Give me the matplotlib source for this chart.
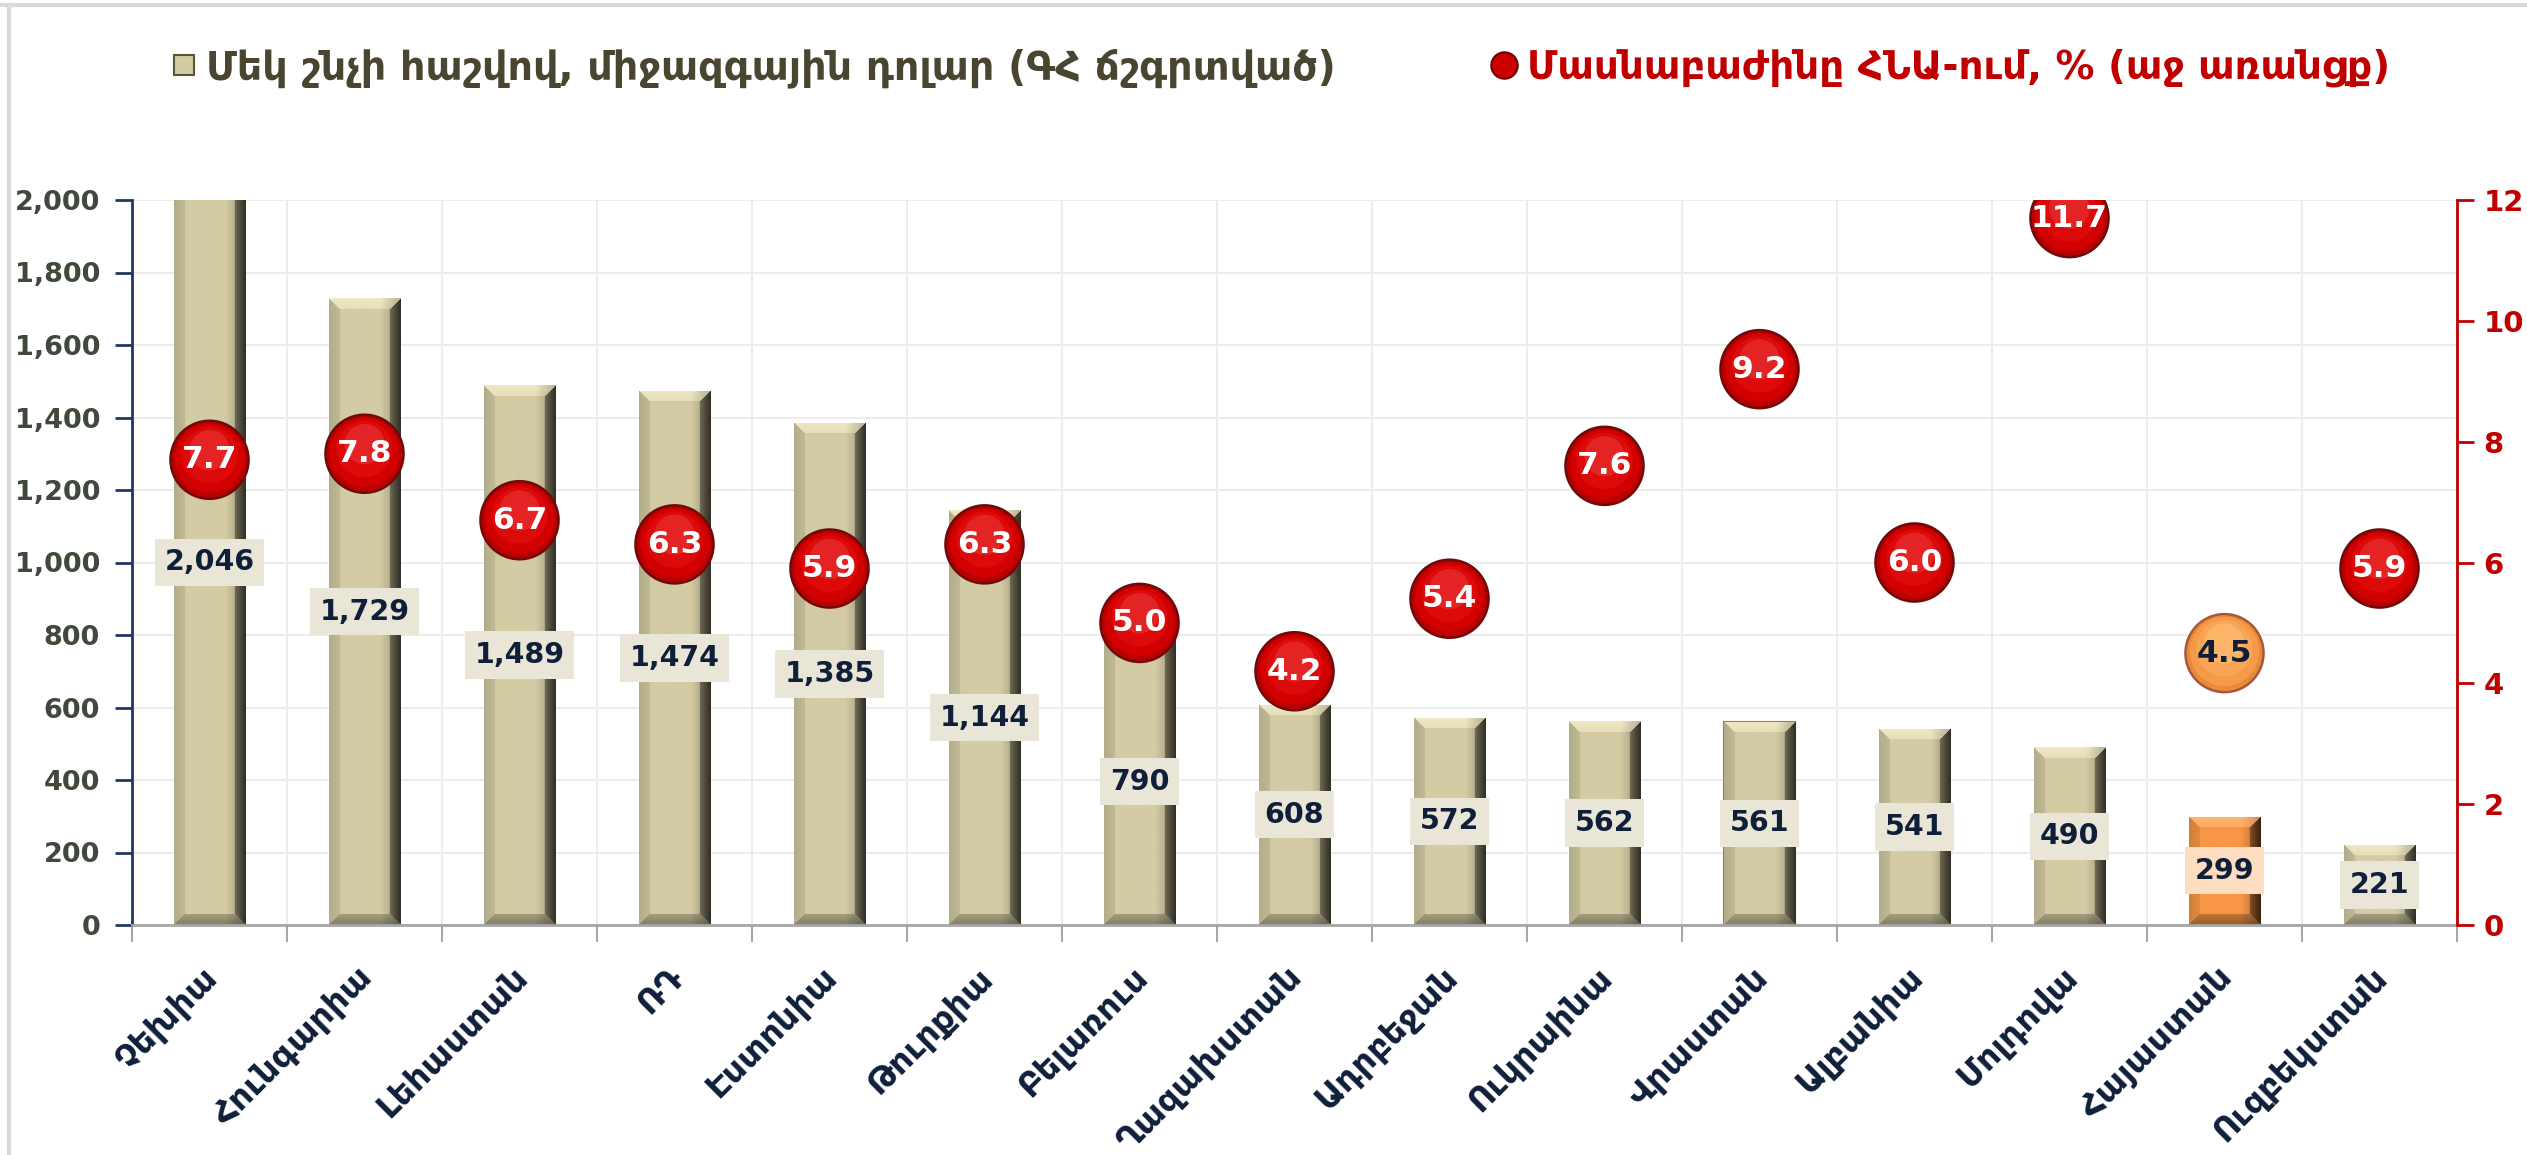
import numpy as np
import matplotlib
matplotlib.use('Agg')
import matplotlib.pyplot as plt
from matplotlib.lines import Line2D
from matplotlib.colors import to_rgb
from matplotlib.transforms import ScaledTranslation
import matplotlib.ticker as mticker

# ---------------- data ----------------
categories = ['Չեխիա', 'Հունգարիա', 'Լեհաստան', 'ՌԴ', 'Էստոնիա', 'Թուրքիա',
              'Բելառուս', 'Ղազախստան', 'Ադրբեջան', 'Ուկրաինա', 'Վրաստան',
              'Ալբանիա', 'Մոլդովա', 'Հայաստան', 'Ուզբեկստան']
per_capita = [2046, 1729, 1489, 1474, 1385, 1144, 790, 608, 572, 562, 561, 541, 490, 299, 221]
share_gdp = [7.7, 7.8, 6.7, 6.3, 5.9, 6.3, 5.0, 4.2, 5.4, 7.6, 9.2, 6.0, 11.7, 4.5, 5.9]
left_ticks = [0, 200, 400, 600, 800, 1000, 1200, 1400, 1600, 1800, 2000]
right_ticks = [0, 2, 4, 6, 8, 10, 12]
legend_bar = 'Մեկ շնչի հաշվով, միջազգային դոլար (ԳՀ ճշգրտված)'
legend_dot = 'Մասնաբաժինը ՀՆԱ-ում, % (աջ առանցք)'
highlight = 'Հայաստան'
outlined = 'Վրաստան'

plt.rcParams['font.family'] = ['DejaVu Sans']

KHAKI = '#d3cba3'
ORANGE = '#f79646'
NAVY = '#0f1f3a'
RED = '#c00000'

W, H = 2527, 1155
fig = plt.figure(figsize=(W / 100, H / 100), dpi=100)
L, R, T, B = 132, 2457, 200, 925
ax = fig.add_axes([L / W, 1 - B / H, (R - L) / W, (B - T) / H])

n = len(categories)
x = np.arange(n)
bw = 0.46
ymax = left_ticks[-1]
px_per_unit_y = (B - T) / ymax
px_per_cat = (R - L) / n


def bevel_image(base, w_px, h_px, bevel=11):
    base = np.array(to_rgb(base))
    rr, cc = np.mgrid[0:h_px, 0:w_px]
    d = np.stack([rr, h_px - 1 - rr, cc, w_px - 1 - cc])
    which = np.argmin(d, axis=0)
    dmin = np.min(d, axis=0)
    fac_edge = np.array([1.12, 0.62, 0.85, 0.33])
    inb = dmin < bevel
    t = 1 - dmin / bevel
    fe = fac_edge[which]
    f = np.where(inb, 1 + (fe - 1) * (0.55 + 0.45 * t), 1.0)
    xs = cc / max(w_px - 1, 1)
    f = f * np.where(xs > 0.72, 1 - 0.28 * (xs - 0.72) / 0.28, 1.0)
    img = np.clip(base[None, None, :] * f[..., None], 0, 1)
    top = (which == 0) & inb
    img[top] = np.clip(img[top] * 0.85 + 0.15, 0, 1)
    return img


bar_colors = [ORANGE if c == highlight else KHAKI for c in categories]
edge_colors = ['#c0702a' if c == outlined else 'none' for c in categories]
bars = ax.bar(x, per_capita, width=bw, color=bar_colors, edgecolor=edge_colors,
              linewidth=1.5, zorder=2)

for i, (b, v, col) in enumerate(zip(bars, per_capita, bar_colors)):
    w_px = int(round(bw * px_per_cat))
    h_px = max(int(round(v * px_per_unit_y)), 4)
    img = bevel_image(col, w_px, h_px)
    vis = min(v, ymax)
    cut = h_px - int(round(vis * px_per_unit_y))
    img = img[cut:]
    im = ax.imshow(img, extent=[i - bw / 2, i + bw / 2, 0, vis], aspect='auto',
                   origin='upper', zorder=2.1, interpolation='bilinear')
    im.set_clip_path(b)

ax.set_xlim(-0.5, n - 0.5)
ax.set_ylim(0, ymax)

# bar value labels
for i, (c, v) in enumerate(zip(categories, per_capita)):
    fc = '#fddcc0' if c == highlight else '#e9e6d8'
    ax.text(i, min(v, ymax) / 2, f'{v:,}', ha='center', va='center', fontsize=20.5,
            fontweight='bold', color=NAVY, zorder=4,
            bbox=dict(boxstyle='square,pad=0.34', fc=fc, ec='none'))

# axes styling
ax.set_yticks(left_ticks)
ax.yaxis.set_major_formatter(mticker.StrMethodFormatter('{x:,.0f}'))
ax.tick_params(axis='y', length=12, width=2, color='#1f3864', pad=11,
               labelsize=19.5, labelcolor='#3f4a3c')
for lab in ax.get_yticklabels():
    lab.set_fontweight('bold')
ax.set_xticks(x)
ax.set_xticks(np.arange(-0.5, n, 1), minor=True)
ax.set_xticklabels(categories, rotation=45, ha='right', va='center',
                   rotation_mode='anchor', fontsize=24, fontweight='bold', color=NAVY)
ax.tick_params(axis='x', which='major', length=0, pad=34)
ax.tick_params(axis='x', which='minor', length=12, width=1.5, color='#a6a6a6')
for lab in ax.get_xticklabels():
    lab.set_transform(lab.get_transform() + ScaledTranslation(0.03, 0, fig.dpi_scale_trans))

ax.set_axisbelow(True)
ax.yaxis.grid(True, color='#ececec', lw=1.5)
ax.xaxis.grid(True, which='minor', color='#ececec', lw=1.5)
ax.spines['top'].set_visible(False)
ax.spines['right'].set_visible(False)
ax.spines['left'].set_color('#1f3864')
ax.spines['left'].set_linewidth(2)
ax.spines['bottom'].set_color('#a6a6a6')
ax.spines['bottom'].set_linewidth(2)

# secondary axis
ax2 = ax.twinx()
ax2.set_ylim(right_ticks[0], right_ticks[-1])
ax2.set_yticks(right_ticks)
ax2.tick_params(axis='y', length=12, width=2, color=RED, pad=7, labelsize=21,
                labelcolor=RED)
for lab in ax2.get_yticklabels():
    lab.set_fontweight('bold')
for s in ['top', 'left', 'bottom']:
    ax2.spines[s].set_visible(False)
ax2.spines['right'].set_color(RED)
ax2.spines['right'].set_linewidth(2)

# glossy ball markers built from layered circles
red_layers = [(1.00, '#6e0a0a', 0.0), (0.94, '#b80000', 0.0), (0.86, '#d20000', 0.02),
              (0.70, '#dc0a0a', 0.06), (0.50, '#e42424', 0.12)]
org_layers = [(1.00, '#a8563a', 0.0), (0.94, '#e88a3c', 0.0), (0.86, '#f59a48', 0.02),
              (0.70, '#f8a656', 0.06), (0.50, '#fbb468', 0.12)]
D = 58.0  # marker diameter in points
is_hl = np.array([c == highlight for c in categories])
for (frac, rc, dy), (_, oc, _) in zip(red_layers, org_layers):
    cols = [oc if h else rc for h in is_hl]
    tr = ax2.transData + ScaledTranslation(0, dy * D / 72, fig.dpi_scale_trans)
    ax2.scatter(x, share_gdp, s=(D * frac) ** 2, c=cols, edgecolors='none',
                transform=tr, zorder=5)
for i, (c, v) in enumerate(zip(categories, share_gdp)):
    ax2.text(i, v, f'{v:.1f}', ha='center', va='center', fontsize=22.5,
             fontweight='bold', color=(NAVY if c == highlight else 'white'), zorder=6)

# legends
h1 = Line2D([], [], marker='s', linestyle='none', markersize=14,
            markerfacecolor=KHAKI, markeredgecolor='#5a5338', markeredgewidth=1.5)
h2 = Line2D([], [], marker='o', linestyle='none', markersize=19,
            markerfacecolor='#cc0000', markeredgecolor='#6e0000', markeredgewidth=1.5)
lg1 = fig.legend([h1], [legend_bar], loc='center left', bbox_to_anchor=(172 / W, 1 - 68 / H),
                 frameon=False, handlelength=0.6, handletextpad=0.25, borderpad=0,
                 borderaxespad=0, prop=dict(size=28.5, weight='bold'))
lg1.get_texts()[0].set_color('#4a4530')
lg2 = fig.legend([h2], [legend_dot], loc='center left', bbox_to_anchor=(1490 / W, 1 - 68 / H),
                 frameon=False, handlelength=0.7, handletextpad=0.25, borderpad=0,
                 borderaxespad=0, prop=dict(size=28, weight='bold'))
lg2.get_texts()[0].set_color(RED)

# chart border lines (top and left)
fig.add_artist(Line2D([0, 1], [1 - 5 / H, 1 - 5 / H], transform=fig.transFigure,
                      color='#d9d9d9', lw=3))
fig.add_artist(Line2D([9 / W, 9 / W], [0, 1 - 5 / H], transform=fig.transFigure,
                      color='#d9d9d9', lw=3))

fig.savefig('out.png', dpi=100)
